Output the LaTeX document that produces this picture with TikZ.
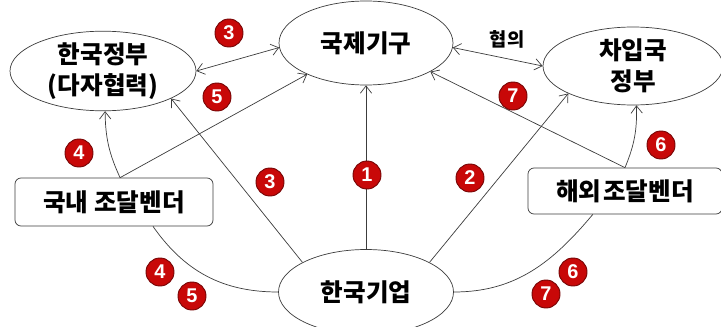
\documentclass[tikz,border=0pt]{standalone}
\usepackage{fontspec}
\setmainfont{Noto Sans CJK KR}
\newfontfamily\numfont{Liberation Sans}
\usetikzlibrary{shapes.geometric,arrows.meta}
\definecolor{numred}{RGB}{200,8,8}
\definecolor{linegray}{RGB}{60,60,60}

\begin{document}
\begin{tikzpicture}[x=0.3mm, y=0.3mm, >={Straight Barb[length=2.2mm,width=3.4mm]},
  oval/.style={ellipse, draw=linegray, line width=0.6pt, fill=white, inner sep=0pt,
    align=center, font=\bfseries\fontsize{21}{26}\selectfont},
  vendor/.style={draw=linegray, line width=0.6pt, fill=white, rounded corners=1.8mm,
    inner sep=0pt, font=\bfseries\fontsize{21}{24}\selectfont},
  num/.style={circle, fill=numred, draw=numred!60!black, line width=0.8pt, text=white,
    inner sep=0pt, minimum size=8.4mm, font=\numfont\bfseries\fontsize{17}{17}\selectfont},
  link/.style={draw=linegray, line width=0.6pt}]
    \useasboundingbox (0,0) rectangle (721,326);
    \clip (0,0) rectangle (721,326);
    % 기관
    \node[oval, minimum width=55.8mm, minimum height=23.4mm] (kgov) at (103,255) {한국정부\\(다자협력)};
    \node[oval, minimum width=52.2mm, minimum height=25.2mm] (intl) at (366,283) {국제기구};
    \node[oval, minimum width=54mm, minimum height=23.4mm, font=\bfseries\fontsize{21}{27}\selectfont] (borrow) at (633,260) {차입국\\정부};
    \node[oval, minimum width=52.5mm, minimum height=25.5mm] (kfirm) at (366,34) {한국기업};
    % 조달벤더
    \node[vendor, minimum width=59.4mm, minimum height=14.4mm] (dvendor) at (114,124) {국내 조달벤더};
    \node[vendor, minimum width=58.2mm, minimum height=13.8mm] (ovendor) at (625,135) {해외\hspace{-0.15em} 조달벤더};
    % 연결선
    \draw[link, <->] (kgov.east) -- (intl.183);
    \draw[link, <->] (intl.-3) -- (borrow.west);
    \node[font=\bfseries\fontsize{16}{16}\selectfont] (talk) at (507,287) {협의};
    \draw[link, ->] (dvendor.76) to[bend left=12] (kgov.-87);
    \draw[link, ->] (dvendor.76) -- (intl.208);
    \draw[link, ->] (kfirm.155) -- (kgov.-22);
    \draw[link, ->] (kfirm.north) -- (intl.south);
    \draw[link, ->] (kfirm.25) -- (borrow.203);
    \draw[link, ->] (ovendor.north) to[bend right=12] (borrow.-85);
    \draw[link, ->] (ovendor.north) -- (intl.-24);
    \draw[link] (dvendor.-32) to[out=-55, in=180] (kfirm.west);
    \draw[link] (kfirm.east) to[out=0, in=-130] (ovendor.-144);
    % 번호
    \node[num] (n3a) at (229,293) {3};
    \node[num] (n5a) at (217,229) {5};
    \node[num] (n4a) at (79,173) {4};
    \node[num] (n3b) at (270,144) {3};
    \node[num] (n1) at (367,151) {1};
    \node[num] (n2) at (470,148) {2};
    \node[num] (n7a) at (513,230) {7};
    \node[num] (n6a) at (661,181) {6};
    \node[num] (n4b) at (160,54) {4};
    \node[num] (n5b) at (192,30) {5};
    \node[num] (n7b) at (546,32) {7};
    \node[num] (n6b) at (573,54) {6};
\end{tikzpicture}
\end{document}
